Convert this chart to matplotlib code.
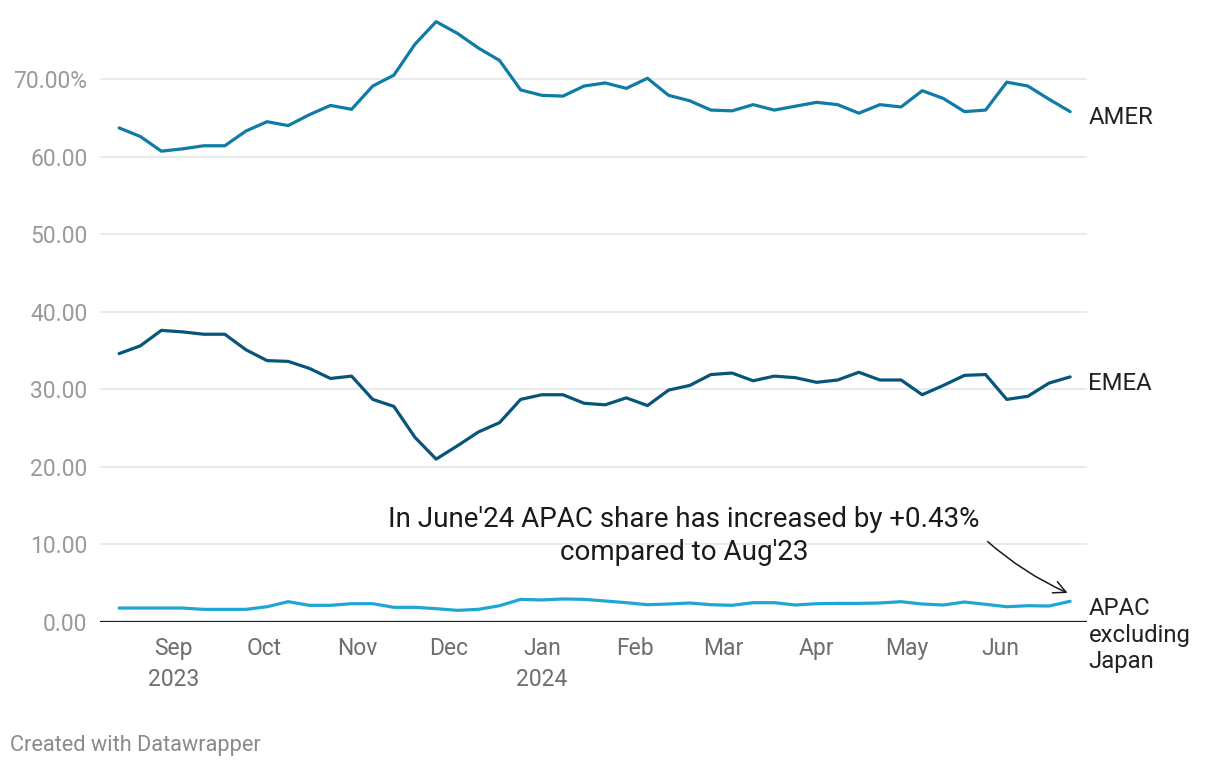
import numpy as np
import matplotlib
matplotlib.use("Agg")
import matplotlib.pyplot as plt
import matplotlib.dates as mdates
import matplotlib.transforms as mtransforms
import datetime as dt

plt.rcParams['font.family'] = ['Roboto', 'DejaVu Sans']

# weekly observations, Aug 14 2023 .. Jun 24 2024
start = dt.datetime(2023, 8, 14)
weeks = [start + dt.timedelta(weeks=i) for i in range(46)]

amer = [63.7, 62.6, 60.7, 61.0, 61.4, 61.4, 63.3, 64.5, 64.0, 65.4, 66.6, 66.1,
        69.1, 70.5, 74.5, 77.4, 75.9, 74.0, 72.4, 68.6, 67.9, 67.8, 69.1,
        69.5, 68.8, 70.1, 67.9, 67.2, 66.0, 65.9, 66.7, 66.0, 66.5, 67.0, 66.7,
        65.6, 66.7, 66.4, 68.5, 67.5, 65.8, 66.0, 69.6, 69.1, 67.4, 65.8]
emea = [34.6, 35.6, 37.6, 37.4, 37.1, 37.1, 35.1, 33.7, 33.6, 32.7, 31.4, 31.7,
        28.7, 27.8, 23.8, 21.0, 22.7, 24.5, 25.7, 28.7, 29.3, 29.3, 28.2,
        28.0, 28.9, 27.9, 29.9, 30.5, 31.9, 32.1, 31.1, 31.7, 31.5, 30.9, 31.2,
        32.2, 31.2, 31.2, 29.3, 30.5, 31.8, 31.9, 28.7, 29.1, 30.8, 31.6]
apac = [1.80, 1.80, 1.80, 1.80, 1.63, 1.63, 1.63, 1.97, 2.62, 2.15, 2.15, 2.36,
        2.36, 1.89, 1.89, 1.72, 1.50, 1.63, 2.10, 2.92, 2.84, 2.97, 2.92,
        2.71, 2.49, 2.23, 2.32, 2.45, 2.23, 2.15, 2.49, 2.49, 2.19, 2.36, 2.40,
        2.40, 2.45, 2.62, 2.32, 2.19, 2.58, 2.28, 1.97, 2.10, 2.06, 2.67]

series = ["AMER", "EMEA", "APAC\nexcluding\nJapan"]
colors = ["#0e7ca5", "#07557a", "#1fa6d2"]

month_ticks = [dt.datetime(2023, m, 1) for m in (9, 10, 11, 12)] + \
              [dt.datetime(2024, m, 1) for m in range(1, 7)]
month_labels = ["Sep\n2023", "Oct", "Nov", "Dec", "Jan\n2024", "Feb", "Mar",
                "Apr", "May", "Jun"]
y_ticks = [0, 10, 20, 30, 40, 50, 60, 70]
y_labels = ["0.00", "10.00", "20.00", "30.00", "40.00", "50.00", "60.00", "70.00%"]

W, H = 1220, 768
fig = plt.figure(figsize=(W / 100, H / 100), dpi=100)
ax = fig.add_axes([100 / W, (H - 622) / H, 987 / W, (622 - 17) / H])

for vals, c in zip([amer, emea, apac], colors):
    ax.plot(weeks, vals, color=c, lw=2.3, solid_capstyle='round',
            solid_joinstyle='round', zorder=3)

ax.set_ylim(0, 78)
ax.set_xlim(dt.datetime(2023, 8, 7, 16), dt.datetime(2024, 6, 29, 14))

ax.set_yticks(y_ticks)
ax.set_yticklabels(y_labels)
ax.set_xticks(month_ticks)
ax.set_xticklabels(month_labels, linespacing=1.45)
ax.tick_params(axis='y', length=0, pad=9, labelsize=16.5, labelcolor='#9a9a9a')
ax.tick_params(axis='x', length=0, pad=11, labelsize=16.5, labelcolor='#6e6e6e')

for s in ax.spines.values():
    s.set_visible(False)
for yv in y_ticks[1:]:
    ax.axhline(yv, color='#e4e4e4', lw=1.1, zorder=1)
ax.axhline(0, color='#1a1a1a', lw=1.6, zorder=4)

# series labels at right end
trans = mtransforms.blended_transform_factory(ax.transAxes, ax.transData)
ax.annotate(series[0], xy=(1, amer[-1]), xycoords=trans, xytext=(1, -4),
            textcoords='offset points', va='center', ha='left', fontsize=17.2,
            color='#222222', annotation_clip=False)
ax.annotate(series[1], xy=(1, emea[-1]), xycoords=trans, xytext=(1, -4.5),
            textcoords='offset points', va='center', ha='left', fontsize=17.2,
            color='#222222', annotation_clip=False)
ax.annotate(series[2], xy=(1, apac[-1]), xycoords=trans, xytext=(1, 3),
            textcoords='offset points', va='top', ha='left', fontsize=17.2,
            color='#222222', linespacing=1.2, annotation_clip=False)

# annotation
ax.text(dt.datetime(2024, 2, 17), 11.1,
        "In June'24 APAC share has increased by +0.43%\ncompared to Aug'23",
        ha='center', va='center', fontsize=20, color='#1a1a1a',
        linespacing=1.25, zorder=5)
ax.annotate("", xy=(weeks[-1], 3.6), xytext=(dt.datetime(2024, 5, 27), 10.6),
            arrowprops=dict(arrowstyle='->', color='#1a1a1a', lw=1.1,
                            connectionstyle='arc3,rad=0.08',
                            mutation_scale=22))

fig.text(10 / W, 1 - 745 / H, "Created with Datawrapper", fontsize=15.7,
         color='#8a8a8a', va='center', ha='left')

fig.savefig("out.png", dpi=100)
